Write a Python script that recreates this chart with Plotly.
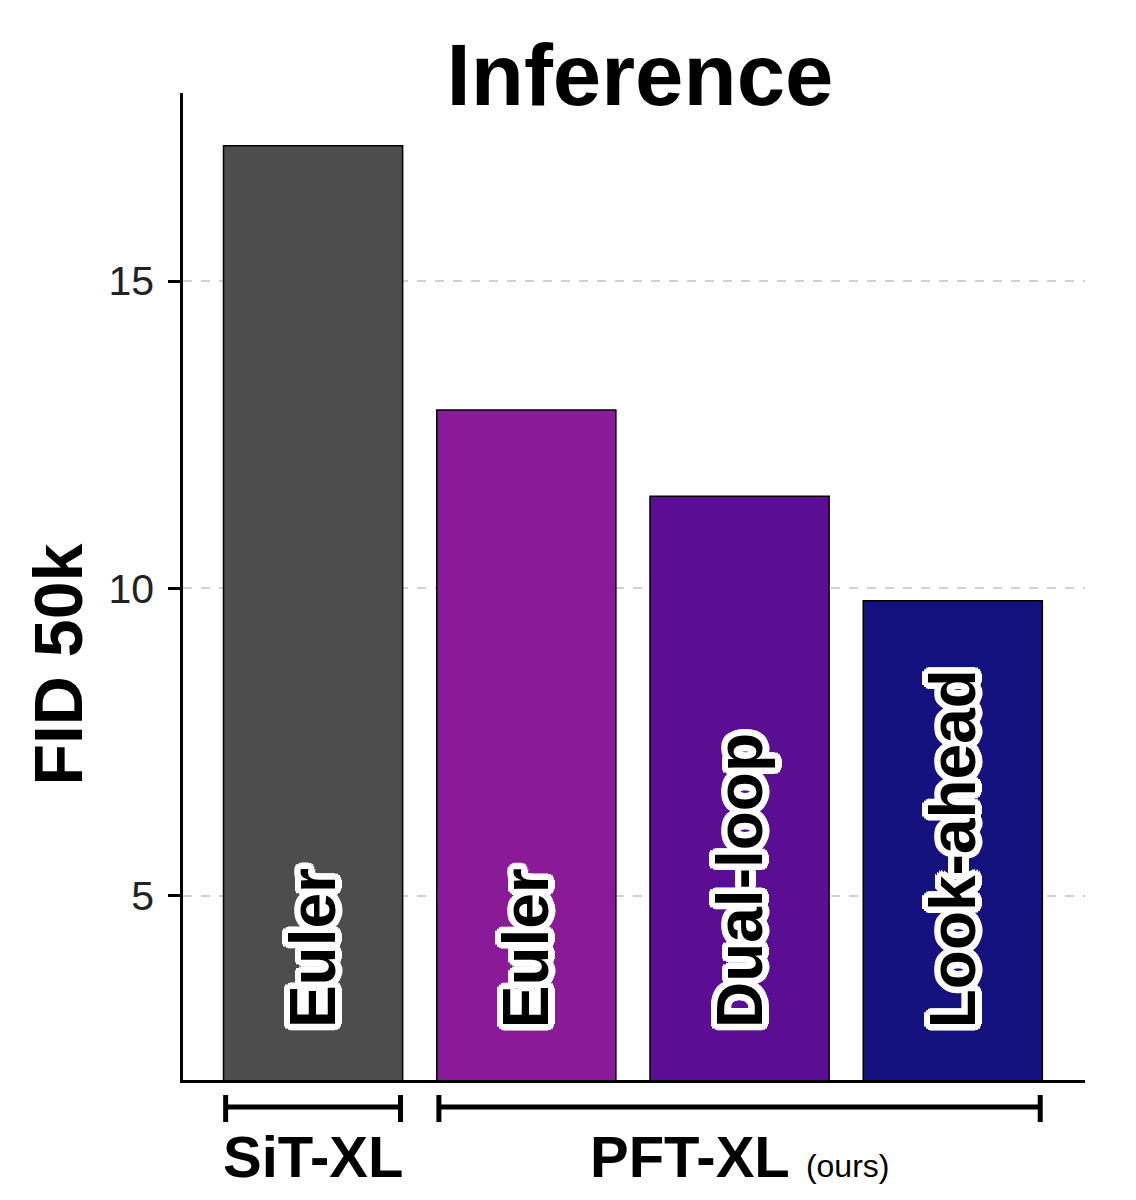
import math
import plotly.graph_objects as go

# data
methods = ["Euler", "Euler", "Dual-loop", "Look-ahead"]
fid = [17.2, 12.9, 11.5, 9.8]
groups = ["SiT-XL", "PFT-XL", "PFT-XL", "PFT-XL"]
group_text = {"SiT-XL": "<b>SiT-XL</b>",
              "PFT-XL": "<b>PFT-XL</b> <span style='font-size:32px'>(ours)</span>"}
colors = ["#4d4d4d", "#8a1a98", "#5b0e94", "#14127f"]
y_ticks = [5, 10, 15]

x_pos = list(range(len(methods)))
bar_w = 0.84
y_min, y_max = 2.0, 18.06
font = "Liberation Sans, Arial, Helvetica, sans-serif"

# thick white halo round the bar labels
halo = ", ".join(f"{r*math.cos(a):.1f}px {r*math.sin(a):.1f}px 0px white"
                 for r in [3.5, 6.5] for a in [k * math.pi / 8 for k in range(16)])

fig = go.Figure(go.Bar(x=x_pos, y=fid, width=bar_w,
                       marker=dict(color=colors, line=dict(color="black", width=1.5)),
                       hoverinfo="skip"))

# method names inside the bars
for i, m in enumerate(methods):
    fig.add_annotation(x=i, y=y_min, xref="x", yref="y", yanchor="bottom", yshift=50,
                       text=f"<b>{m}</b>", textangle=-90, showarrow=False,
                       font=dict(size=64, color="black", family=font, shadow=halo))

# brackets + group names under the axis
spans = {}
for i, g in enumerate(groups):
    spans.setdefault(g, []).append(i)

for g, idx in spans.items():
    x0 = min(idx) - bar_w / 2 + 0.01
    x1 = max(idx) + bar_w / 2 - 0.01
    line = dict(color="black", width=5)
    fig.add_shape(type="line", xref="x", yref="paper", x0=x0, x1=x1, y0=-0.0274, y1=-0.0274, line=line)
    fig.add_shape(type="line", xref="x", yref="paper", x0=x0, x1=x0, y0=-0.0152, y1=-0.0426, line=line)
    fig.add_shape(type="line", xref="x", yref="paper", x0=x1, x1=x1, y0=-0.0152, y1=-0.0426, line=line)
    fig.add_annotation(x=sum(idx) / len(idx), y=-0.078, xref="x", yref="paper",
                       xanchor="center", yanchor="middle", showarrow=False,
                       text=group_text[g], font=dict(size=58, color="black", family=font))

# y axis title
fig.add_annotation(x=-0.139, y=0.4205, xref="paper", yref="paper", showarrow=False,
                   xanchor="center", yanchor="middle",
                   text="<b>FID 50k</b>", textangle=-90,
                   font=dict(size=68, color="black", family=font))

# page body has an 8px margin, so the figure is laid out 8px up and left
fig.update_layout(
    width=1136, height=1200,
    margin=dict(l=175, r=59, t=85, b=128),
    plot_bgcolor="white", paper_bgcolor="white",
    showlegend=False,
    title=dict(text="<b>Inference</b>", xref="container", x=632 / 1136, xanchor="center",
               yref="container", y=1 - 67 / 1200, yanchor="middle",
               font=dict(size=87, color="black", family=font)),
    xaxis=dict(range=[-0.61, 3.62], showticklabels=False, ticks="", showgrid=False,
               zeroline=False, showline=True, linecolor="black", linewidth=2.5),
    yaxis=dict(range=[y_min, y_max], tickvals=y_ticks, ticks="outside", ticklen=12,
               tickwidth=2.5, tickcolor="black", showline=True, linecolor="black",
               linewidth=2.5, zeroline=False, showgrid=True, gridcolor="#d0d0d0",
               griddash="dash", gridwidth=1.5, ticklabelstandoff=6,
               tickfont=dict(size=41, color="#222222", family=font)),
)

fig.write_html("out.html")
